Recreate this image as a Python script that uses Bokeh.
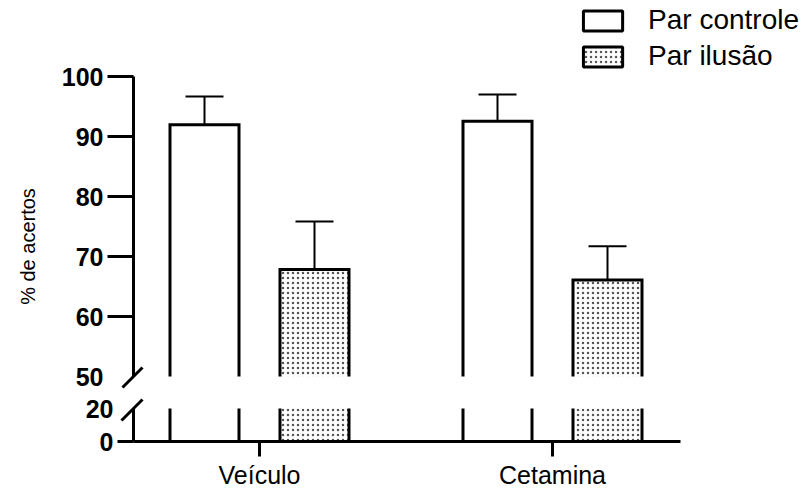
import math
from bokeh.plotting import figure
from bokeh.models import (Range1d, FixedTicker, Whisker, TeeHead, Legend, LegendItem,
                          ColumnDataSource)
from bokeh.core.properties import value
from bokeh.layouts import column
from bokeh.embed import file_html
from bokeh.resources import INLINE

# ---- data ----
groups = ["Veículo", "Cetamina"]
series = ["Par controle", "Par ilusão"]
controle = [91.95, 92.55]
controle_err = [4.7, 4.45]
ilusao = [67.85, 66.1]
ilusao_err = [8.0, 5.6]
upper_ticks = [50, 60, 70, 80, 90, 100]
lower_ticks = [0, 20]
upper_seg = (50, 100)
lower_seg = (0, 20)
y_title = "% de acertos"

# ---- layout constants (pixels) ----
FONT = "Liberation Sans"
W = 803
H = 490
AXIS_PX = 133          # page x of the y axis
CAT0_PX = 259          # page x of first category
PX_X = 293.0           # px per category
XAXIS_END_PX = 680
OFF = 0.1877           # bar offset (categories)
BAR_W = 0.2355
UP_TOP_PX = 0
UP_100_PX = 76
UP_50_PX = 376
BREAK_PX = 392         # boundary between the two figures
LO_20_PX = 408
LO_0_PX = 441

X0 = (AXIS_PX - CAT0_PX) / PX_X
xs = list(range(len(groups)))
x_range = Range1d(X0 - AXIS_PX / PX_X, X0 + (W - AXIS_PX) / PX_X)

UP_PX = (UP_50_PX - UP_100_PX) / (upper_seg[1] - upper_seg[0])
LO_PX = (LO_0_PX - LO_20_PX) / (lower_seg[1] - lower_seg[0])
up_range = Range1d(upper_seg[0] - (BREAK_PX - UP_50_PX) / UP_PX,
                   upper_seg[0] + (UP_50_PX - UP_TOP_PX) / UP_PX)
lo_range = Range1d(lower_seg[0] - (H - LO_0_PX) / LO_PX,
                   lower_seg[0] + (LO_0_PX - BREAK_PX) / LO_PX)


def base_fig(y_range, frame_h):
    p = figure(x_range=x_range, y_range=y_range, frame_width=W, frame_height=frame_h,
               min_border_left=0, min_border_right=0, min_border_top=0,
               min_border_bottom=0, output_backend="svg", toolbar_location=None,
               outline_line_color=None, background_fill_color="white",
               border_fill_color="white")
    p.xgrid.visible = False
    p.ygrid.visible = False
    return p


HATCH = dict(hatch_pattern="dot", hatch_scale=5, hatch_weight=1.5, hatch_color="#555555")


def draw_bars(p, bottom, top_cap, closed_top):
    for name, vals in (("controle", controle), ("ilusao", ilusao)):
        off = -OFF if name == "controle" else OFF
        cx = [x + off for x in xs]
        tops = [min(v, top_cap) for v in vals]
        kw = dict(fill_color="white", line_color=None)
        if name == "ilusao":
            kw.update(HATCH)
        p.vbar(x=cx, top=tops, bottom=bottom, width=BAR_W, **kw)
        l = [c - BAR_W / 2 for c in cx]
        r = [c + BAR_W / 2 for c in cx]
        if closed_top:
            p.multi_line(xs=[[a, a, b, b] for a, b in zip(l, r)],
                         ys=[[bottom, t, t, bottom] for t in tops],
                         line_color="black", line_width=3, line_join="miter")
        else:
            p.segment(x0=l + r, y0=[bottom] * (2 * len(l)),
                      x1=l + r, y1=tops * 2, line_color="black", line_width=3)


# ---- upper segment ----
p1 = base_fig(up_range, BREAK_PX - UP_TOP_PX)
draw_bars(p1, upper_seg[0], float("inf"), True)

# legend glyphs (no data drawn)
nan = float("nan")
leg_c = p1.vbar(x=[nan], top=[nan], width=0.1, fill_color="white",
                line_color="black", line_width=3)
leg_i = p1.vbar(x=[nan], top=[nan], width=0.1, fill_color="white",
                line_color="black", line_width=3, **HATCH)

src_c = ColumnDataSource(dict(x=[x - OFF for x in xs], lo=controle,
                              up=[v + e for v, e in zip(controle, controle_err)]))
src_i = ColumnDataSource(dict(x=[x + OFF for x in xs], lo=ilusao,
                              up=[v + e for v, e in zip(ilusao, ilusao_err)]))
for s in (src_c, src_i):
    p1.add_layout(Whisker(base="x", lower="lo", upper="up", source=s,
                          dimension="height", line_width=2, line_color="black",
                          upper_head=TeeHead(size=38, line_width=2, line_color="black"),
                          lower_head=None))

p1.xaxis.visible = False
ya = p1.yaxis[0]
ya.fixed_location = X0
ya.bounds = upper_seg
ya.ticker = FixedTicker(ticks=upper_ticks, minor_ticks=upper_ticks[1:])
ya.axis_line_width = 3
ya.major_tick_out = 0
ya.major_tick_in = 0
ya.minor_tick_out = 26
ya.minor_tick_in = 0
ya.minor_tick_line_width = 3
ya.major_label_standoff = 4
ya.major_label_text_font = FONT
ya.major_label_text_font_style = "bold"
ya.major_label_text_font_size = "25px"
ya.major_label_text_color = "black"

legend = Legend(items=[LegendItem(label=series[0], renderers=[leg_c]),
                       LegendItem(label=series[1], renderers=[leg_i])],
                location="top_right", border_line_color=None, background_fill_alpha=0,
                padding=0, margin=4, glyph_width=49, glyph_height=25, label_height=25,
                label_standoff=21, spacing=4, label_text_font=FONT,
                label_text_font_size="28px", label_text_color="black")
p1.add_layout(legend, "center")

# y axis title
p1.text(x=[X0 - (AXIS_PX - 27) / PX_X], y=[upper_seg[0] + (UP_50_PX - 246) / UP_PX],
        text=[y_title], angle=math.pi / 2, text_align="center", text_baseline="middle",
        text_font=value(FONT), text_font_size="20px", text_color="black")
# break mark (upper)
p1.segment(x0=[X0 - 11 / PX_X], y0=[upper_seg[0] - 11 / UP_PX],
           x1=[X0 + 9 / PX_X], y1=[upper_seg[0] + 9 / UP_PX],
           line_width=3, line_color="black")

# ---- lower segment ----
p2 = base_fig(lo_range, H - BREAK_PX)
draw_bars(p2, lower_seg[0], lower_seg[1], False)

xa = p2.xaxis[0]
xa.fixed_location = lower_seg[0]
xa.bounds = (X0, X0 + (XAXIS_END_PX - AXIS_PX) / PX_X)
xa.ticker = FixedTicker(ticks=xs)
xa.major_label_overrides = {i: g for i, g in enumerate(groups)}
xa.axis_line_width = 3
xa.major_tick_out = 15
xa.major_tick_in = 0
xa.major_tick_line_width = 3
xa.minor_tick_out = 0
xa.minor_tick_in = 0
xa.major_label_standoff = 4
xa.major_label_text_font = FONT
xa.major_label_text_font_size = "25px"
xa.major_label_text_color = "black"

yb = p2.yaxis[0]
yb.fixed_location = X0
yb.bounds = lower_seg
yb.ticker = FixedTicker(ticks=lower_ticks, minor_ticks=lower_ticks[:1])
yb.axis_line_width = 3
yb.major_tick_out = 0
yb.major_tick_in = 0
yb.minor_tick_out = 16
yb.minor_tick_in = 0
yb.minor_tick_line_width = 3
yb.major_label_standoff = 4
yb.major_label_text_font = FONT
yb.major_label_text_font_style = "bold"
yb.major_label_text_font_size = "25px"
yb.major_label_text_color = "black"

# break mark (lower)
p2.segment(x0=[X0 - 12 / PX_X], y0=[lower_seg[1] - 12 / LO_PX],
           x1=[X0 + 9 / PX_X], y1=[lower_seg[1] + 9 / LO_PX],
           line_width=3, line_color="black")

layout = column(p1, p2, spacing=0)
open("out.html", "w").write(file_html(layout, INLINE))
